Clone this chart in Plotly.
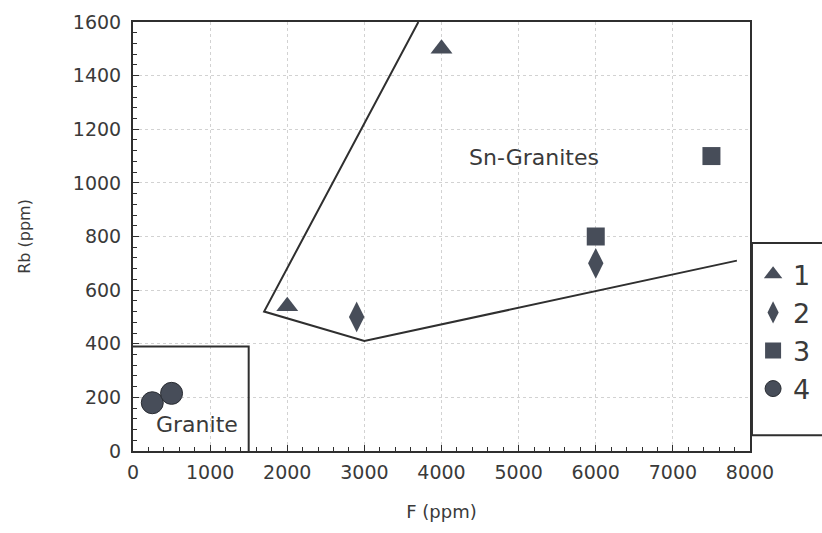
import plotly.graph_objects as go

# Data
s1_x = [2000, 4000]
s1_y = [540, 1500]
s2_x = [2900, 6000]
s2_y = [500, 700]
s3_x = [6000, 7500]
s3_y = [800, 1100]
s4_x = [250, 500]
s4_y = [180, 215]

sn_field_x = [3700, 1700, 3000, 7830]
sn_field_y = [1600, 520, 410, 710]
granite_field_x = [0, 1500, 1500]
granite_field_y = [390, 390, 0]

x_ticks = [0, 1000, 2000, 3000, 4000, 5000, 6000, 7000, 8000]
y_ticks = [0, 200, 400, 600, 800, 1000, 1200, 1400, 1600]

mcol = "#474d59"
lcol = "#2f2f2f"
tcol = "#3a3a3a"
FONT = "DejaVu Sans, Arial, sans-serif"

fig = go.Figure()

fig.add_trace(go.Scatter(x=sn_field_x, y=sn_field_y, mode="lines",
                         line=dict(color=lcol, width=2), showlegend=False, hoverinfo="skip"))
fig.add_trace(go.Scatter(x=granite_field_x, y=granite_field_y, mode="lines",
                         line=dict(color=lcol, width=2), showlegend=False, hoverinfo="skip"))

fig.add_trace(go.Scatter(x=s1_x, y=s1_y, mode="markers", name="1", legendgroup="a",
                         marker=dict(symbol="triangle-up", size=19, color=mcol)))
fig.add_trace(go.Scatter(x=s2_x, y=s2_y, mode="markers", name="2", legendgroup="b",
                         marker=dict(symbol="diamond-tall", size=22, color=mcol)))
fig.add_trace(go.Scatter(x=s3_x, y=s3_y, mode="markers", name="3", legendgroup="c",
                         marker=dict(symbol="square", size=18, color=mcol)))
fig.add_trace(go.Scatter(x=s4_x, y=s4_y, mode="markers", name="4", legendgroup="d",
                         marker=dict(symbol="circle", size=22, color=mcol,
                                     line=dict(color="#2a2d33", width=1))))

fig.add_annotation(x=5200, y=1095, text="Sn-Granites", showarrow=False,
                   font=dict(family=FONT, size=22, color=tcol))
fig.add_annotation(x=830, y=97, text="Granite", showarrow=False,
                   font=dict(family=FONT, size=22, color=tcol))

# legend frame
fig.add_shape(type="rect", xref="paper", yref="paper",
              x0=1.0032, x1=1.2, y0=0.037, y1=0.485,
              line=dict(color=lcol, width=2), fillcolor="rgba(0,0,0,0)", layer="above")

axis_common = dict(
    showline=True, linecolor=lcol, linewidth=2, mirror=True,
    ticks="inside", ticklen=6, tickcolor=lcol, tickwidth=1,
    showgrid=True, gridcolor="#d2d2d2", griddash="dot", gridwidth=1,
    zeroline=False,
    tickfont=dict(family=FONT, size=19, color=tcol),
)

fig.update_xaxes(range=[0, 8000], tickvals=x_ticks, ticktext=[str(v) for v in x_ticks],
                 minor=dict(dtick=200, ticks="inside", ticklen=4, tickcolor=lcol, showgrid=False),
                 ticklabelstandoff=3,
                 title=dict(text="F (ppm)", font=dict(family=FONT, size=18, color=tcol), standoff=24),
                 **axis_common)
fig.update_yaxes(range=[0, 1600], tickvals=y_ticks, ticktext=[str(v) for v in y_ticks],
                 minor=dict(dtick=40, ticks="inside", ticklen=4, tickcolor=lcol, showgrid=False),
                 ticklabelstandoff=6,
                 title=dict(text="Rb (ppm)", font=dict(family=FONT, size=16, color=tcol), standoff=38),
                 **axis_common)

fig.update_layout(
    width=822, height=533,
    margin=dict(l=133, r=72, t=22, b=82, autoexpand=False),
    plot_bgcolor="white", paper_bgcolor="white",
    font=dict(family=FONT, color=tcol),
    legend=dict(x=1.005, xanchor="left", y=0.468, yanchor="top",
                borderwidth=0, bgcolor="rgba(0,0,0,0)",
                font=dict(family=FONT, size=27, color=tcol),
                tracegroupgap=0, itemwidth=30),
    showlegend=True,
)

fig.write_html("out.html", config={"displayModeBar": False},
               post_script="document.body.style.margin='0';")
